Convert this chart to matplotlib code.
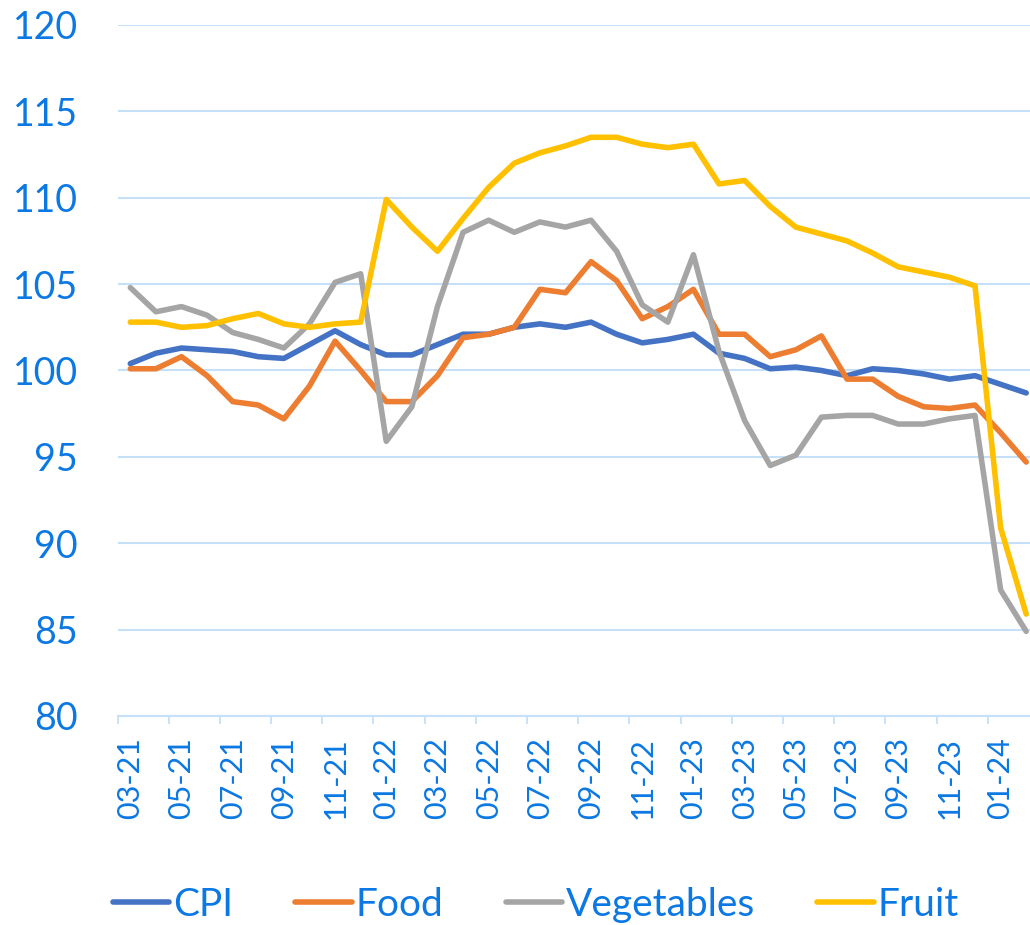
import matplotlib
matplotlib.use("Agg")
import matplotlib.pyplot as plt
from matplotlib.ticker import FixedLocator

months = ["03-21", "04-21", "05-21", "06-21", "07-21", "08-21", "09-21", "10-21",
          "11-21", "12-21", "01-22", "02-22", "03-22", "04-22", "05-22", "06-22",
          "07-22", "08-22", "09-22", "10-22", "11-22", "12-22", "01-23", "02-23",
          "03-23", "04-23", "05-23", "06-23", "07-23", "08-23", "09-23", "10-23",
          "11-23", "12-23", "01-24", "02-24"]

cpi = [100.4, 101.0, 101.3, 101.2, 101.1, 100.8, 100.7, 101.5, 102.3, 101.5,
       100.9, 100.9, 101.5, 102.1, 102.1, 102.5, 102.7, 102.5, 102.8, 102.1,
       101.6, 101.8, 102.1, 101.0, 100.7, 100.1, 100.2, 100.0, 99.7, 100.1,
       100.0, 99.8, 99.5, 99.7, 99.2, 98.7]

food = [100.1, 100.1, 100.8, 99.7, 98.2, 98.0, 97.2, 99.1, 101.7, 100.0,
        98.2, 98.2, 99.7, 101.9, 102.1, 102.5, 104.7, 104.5, 106.3, 105.2,
        103.0, 103.7, 104.7, 102.1, 102.1, 100.8, 101.2, 102.0, 99.5, 99.5,
        98.5, 97.9, 97.8, 98.0, 96.4, 94.7]

vegetables = [104.8, 103.4, 103.7, 103.2, 102.2, 101.8, 101.3, 102.7, 105.1, 105.6,
              95.9, 97.9, 103.7, 108.0, 108.7, 108.0, 108.6, 108.3, 108.7, 106.9,
              103.8, 102.8, 106.7, 101.1, 97.1, 94.5, 95.1, 97.3, 97.4, 97.4,
              96.9, 96.9, 97.2, 97.4, 87.3, 84.9]

fruit = [102.8, 102.8, 102.5, 102.6, 103.0, 103.3, 102.7, 102.5, 102.7, 102.8,
         109.9, 108.3, 106.9, 108.8, 110.6, 112.0, 112.6, 113.0, 113.5, 113.5,
         113.1, 112.9, 113.1, 110.8, 111.0, 109.5, 108.3, 107.9, 107.5, 106.8,
         106.0, 105.7, 105.4, 104.9, 90.9, 85.9]

series_names = ["CPI", "Food", "Vegetables", "Fruit"]
y_ticks = [80, 85, 90, 95, 100, 105, 110, 115, 120]

colors = ["#4472C4", "#ED7D31", "#A5A5A5", "#FFC000"]
text_color = "#0B78E3"
grid_color = "#C6E0FA"

plt.rcParams['font.family'] = ['Lato', 'DejaVu Sans']

fig = plt.figure(figsize=(10.3, 9.25), dpi=100)
W, H = 1030, 925
left_px, right_px = 117.5, 1039.0
top_px, bottom_px = 25.0, 716.0
ax = fig.add_axes([left_px / W, 1 - bottom_px / H,
                   (right_px - left_px) / W, (bottom_px - top_px) / H])

x = list(range(len(months)))
for vals, name, c in zip([cpi, food, vegetables, fruit], series_names, colors):
    ax.plot(x, vals, color=c, lw=4.0, label=name,
            solid_joinstyle='round', solid_capstyle='round')

ax.set_xlim(-0.5, len(months) - 0.5)
ax.set_ylim(80, 120)

ax.set_yticks(y_ticks)
ax.set_yticklabels([str(v) for v in y_ticks])
ax.yaxis.grid(True, color=grid_color, lw=1.5)
ax.set_axisbelow(True)
ax.tick_params(axis='y', length=0, pad=28.5, labelsize=27, labelcolor=text_color)

ax.set_xticks(x[::2])
ax.set_xticklabels(months[::2], rotation=90)
ax.xaxis.set_minor_locator(FixedLocator([i - 0.5 for i in range(0, len(months) + 1, 2)]))
ax.tick_params(axis='x', which='major', length=0, pad=15, labelsize=22,
               labelcolor=text_color)
ax.tick_params(axis='x', which='minor', length=6, width=1.3, color=grid_color,
               direction='out')

for s in ['left', 'right', 'top']:
    ax.spines[s].set_visible(False)
ax.spines['bottom'].set_color(grid_color)
ax.spines['bottom'].set_linewidth(1.5)

leg = fig.legend(loc='center', bbox_to_anchor=(536 / W, 1 - 905 / H), ncol=4,
                 frameon=False, fontsize=28, handlelength=1.45, handletextpad=0.1,
                 columnspacing=1.6, labelcolor=text_color)
for line in leg.get_lines():
    line.set_linewidth(4.0)

fig.savefig("out.png", dpi=100)
